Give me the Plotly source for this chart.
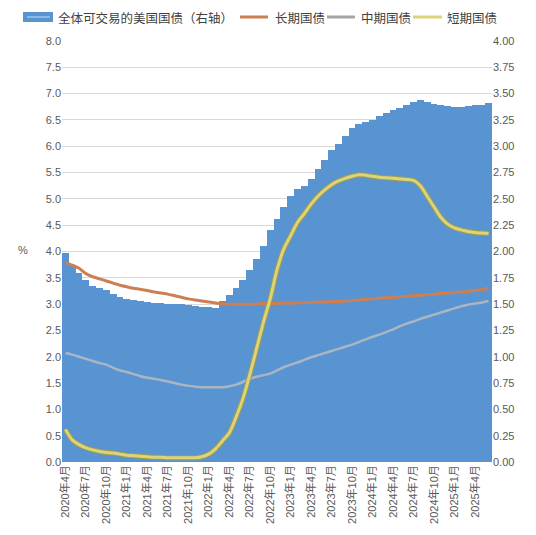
import plotly.graph_objects as go

# Monthly categories, April 2020 .. June 2025
years = [2020, 2021, 2022, 2023, 2024, 2025]
months = [f"{y}年{m}月" for y in years for m in range(1, 13)]
months = months[months.index("2020年4月"): months.index("2025年6月") + 1]

tick_labels = ["2020年4月", "2020年7月", "2020年10月", "2021年1月", "2021年4月",
               "2021年7月", "2021年10月", "2022年1月", "2022年4月", "2022年7月",
               "2022年10月", "2023年1月", "2023年4月", "2023年7月", "2023年10月",
               "2024年1月", "2024年4月", "2024年7月", "2024年10月", "2025年1月",
               "2025年4月"]

series_names = ["全体可交易的美国国债（右轴）", "长期国债", "中期国债", "短期国债"]

# 全体可交易的美国国债 (right axis)
total_tradable = [1.985, 1.875, 1.80, 1.725, 1.675, 1.65, 1.635, 1.60, 1.565, 1.55,
                  1.535, 1.525, 1.52, 1.515, 1.51, 1.505, 1.50, 1.50, 1.495, 1.485,
                  1.475, 1.47, 1.465, 1.525, 1.585, 1.65, 1.725, 1.825, 1.925, 2.05,
                  2.20, 2.31, 2.425, 2.525, 2.59, 2.62, 2.69, 2.785, 2.87, 2.965,
                  3.025, 3.10, 3.175, 3.215, 3.235, 3.25, 3.29, 3.315, 3.34, 3.365,
                  3.395, 3.425, 3.44, 3.425, 3.40, 3.39, 3.38, 3.375, 3.375, 3.38,
                  3.39, 3.395, 3.41]

# 长期国债 (left axis)
long_term = [3.79, 3.74, 3.68, 3.58, 3.52, 3.48, 3.44, 3.40, 3.36, 3.33,
             3.30, 3.28, 3.26, 3.23, 3.21, 3.19, 3.16, 3.13, 3.10, 3.08,
             3.06, 3.04, 3.02, 3.01, 3.00, 3.00, 3.00, 3.00, 3.00, 3.01,
             3.01, 3.01, 3.02, 3.02, 3.02, 3.03, 3.03, 3.04, 3.04, 3.05,
             3.05, 3.06, 3.07, 3.08, 3.09, 3.10, 3.11, 3.12, 3.13, 3.14,
             3.15, 3.16, 3.17, 3.18, 3.19, 3.20, 3.21, 3.22, 3.23, 3.24,
             3.26, 3.28, 3.30]

# 中期国债 (left axis)
mid_term = [2.07, 2.04, 2.00, 1.96, 1.92, 1.88, 1.85, 1.79, 1.74, 1.71,
            1.67, 1.63, 1.60, 1.58, 1.56, 1.53, 1.50, 1.47, 1.45, 1.43,
            1.42, 1.42, 1.42, 1.42, 1.44, 1.47, 1.52, 1.58, 1.62, 1.65,
            1.68, 1.74, 1.80, 1.85, 1.89, 1.94, 1.99, 2.03, 2.07, 2.11,
            2.15, 2.19, 2.23, 2.28, 2.33, 2.38, 2.42, 2.47, 2.52, 2.58,
            2.63, 2.67, 2.72, 2.76, 2.80, 2.84, 2.88, 2.92, 2.96, 2.99,
            3.01, 3.03, 3.06]

# 短期国债 (left axis)
short_term = [0.62, 0.42, 0.33, 0.27, 0.23, 0.20, 0.18, 0.17, 0.15, 0.13,
              0.12, 0.11, 0.10, 0.09, 0.09, 0.08, 0.08, 0.08, 0.08, 0.08,
              0.10, 0.15, 0.25, 0.40, 0.55, 0.85, 1.20, 1.65, 2.15, 2.65,
              3.10, 3.65, 4.05, 4.30, 4.55, 4.72, 4.90, 5.05, 5.17, 5.27,
              5.34, 5.39, 5.43, 5.46, 5.45, 5.43, 5.41, 5.40, 5.39, 5.38,
              5.37, 5.35, 5.25, 5.05, 4.85, 4.65, 4.52, 4.45, 4.41, 4.38,
              4.36, 4.35, 4.34]

FONT = "Liberation Sans, Noto Sans CJK SC, sans-serif"
CJK = "Noto Sans CJK SC, sans-serif"
TXT = "#595959"
C_BAR = "#5794D1"
C_LONG = "#CD7F52"
C_MID = "#AAB5C4"
C_SHORT = "#DCD47A"
C_SHORT_EDGE = "#A39C4C"

# page offset (body margin) compensation
OFF = 8
W, H = 536 - OFF, 535 - OFF
# plot area in screen pixels
S_LEFT, S_RIGHT, S_TOP, S_BOTTOM = 62, 492, 41, 462
ML, MT = S_LEFT - OFF, S_TOP - OFF
MR, MB = W - (S_RIGHT - OFF), H - (S_BOTTOM - OFF)
PW, PH = S_RIGHT - S_LEFT, S_BOTTOM - S_TOP


def px(x):
    return (x - S_LEFT) / PW


def py(y):
    return (S_BOTTOM - y) / PH


LEG_Y = 17  # legend row centre, screen px

fig = go.Figure()
fig.add_trace(go.Bar(x=months, y=total_tradable, name=series_names[0],
                     marker=dict(color=C_BAR, line=dict(width=0)), yaxis="y"))
fig.add_trace(go.Scatter(x=months, y=long_term, name=series_names[1], mode="lines",
                         line=dict(color=C_LONG, width=3, shape="spline", smoothing=0.5),
                         yaxis="y2"))
fig.add_trace(go.Scatter(x=months, y=mid_term, name=series_names[2], mode="lines",
                         line=dict(color=C_MID, width=2.5, shape="spline", smoothing=0.5),
                         yaxis="y2"))
fig.add_trace(go.Scatter(x=months, y=short_term, mode="lines", hoverinfo="skip",
                         line=dict(color=C_SHORT_EDGE, width=5, shape="spline", smoothing=0.8),
                         yaxis="y2"))
fig.add_trace(go.Scatter(x=months, y=short_term, name=series_names[3], mode="lines",
                         line=dict(color=C_SHORT, width=3, shape="spline", smoothing=0.8),
                         yaxis="y2"))

# manual single-row legend (screen pixel positions)
shapes = [
    dict(type="rect", xref="paper", yref="paper", x0=px(23), x1=px(53),
         y0=py(LEG_Y + 5), y1=py(LEG_Y - 5), fillcolor=C_BAR, line=dict(width=0)),
    dict(type="line", xref="paper", yref="paper", x0=px(27), x1=px(50),
         y0=py(LEG_Y), y1=py(LEG_Y), line=dict(color="#8DB9E4", width=2)),
    dict(type="line", xref="paper", yref="paper", x0=px(240), x1=px(268),
         y0=py(LEG_Y), y1=py(LEG_Y), line=dict(color=C_LONG, width=3)),
    dict(type="line", xref="paper", yref="paper", x0=px(327), x1=px(355),
         y0=py(LEG_Y), y1=py(LEG_Y), line=dict(color="#A5A5A5", width=3)),
    dict(type="line", xref="paper", yref="paper", x0=px(413), x1=px(442),
         y0=py(LEG_Y), y1=py(LEG_Y), line=dict(color=C_SHORT, width=3)),
]
legend_x = [56, 273, 359, 445]
annotations = [dict(text=n, xref="paper", yref="paper", x=px(lx), y=py(LEG_Y),
                    xanchor="left", yanchor="middle", showarrow=False,
                    font=dict(size=12.5, color="#404040", family=CJK))
               for n, lx in zip(series_names, legend_x)]
annotations.append(dict(text="%", xref="paper", yref="paper", x=px(23), y=py(250),
                        xanchor="center", yanchor="middle", showarrow=False,
                        font=dict(size=11, color=TXT, family=FONT)))

fig.update_layout(
    width=W, height=H,
    margin=dict(l=ML, r=MR, t=MT, b=MB, autoexpand=False),
    paper_bgcolor="white", plot_bgcolor="white",
    font=dict(family=FONT, size=11, color=TXT),
    bargap=0,
    showlegend=False,
    xaxis=dict(type="category", categoryorder="array", categoryarray=months,
               tickmode="array", tickvals=tick_labels, ticktext=tick_labels,
               tickangle=-90, showgrid=False, showline=False, ticks="", automargin=False,
               tickfont=dict(size=11, color=TXT, family=FONT)),
    yaxis=dict(side="right", range=[0, 4], dtick=0.25, tickformat=".2f", automargin=False,
               showgrid=True, gridcolor="#D9D9D9", gridwidth=1, zeroline=False,
               showline=False, ticks="", tickfont=dict(size=11, color=TXT)),
    yaxis2=dict(side="left", overlaying="y", range=[0, 8], dtick=0.5, tickformat=".1f",
                showgrid=False, zeroline=False, showline=False, ticks="", automargin=False,
                tickfont=dict(size=11, color=TXT)),
    shapes=shapes,
    annotations=annotations,
)

fig.write_html("out.html")
